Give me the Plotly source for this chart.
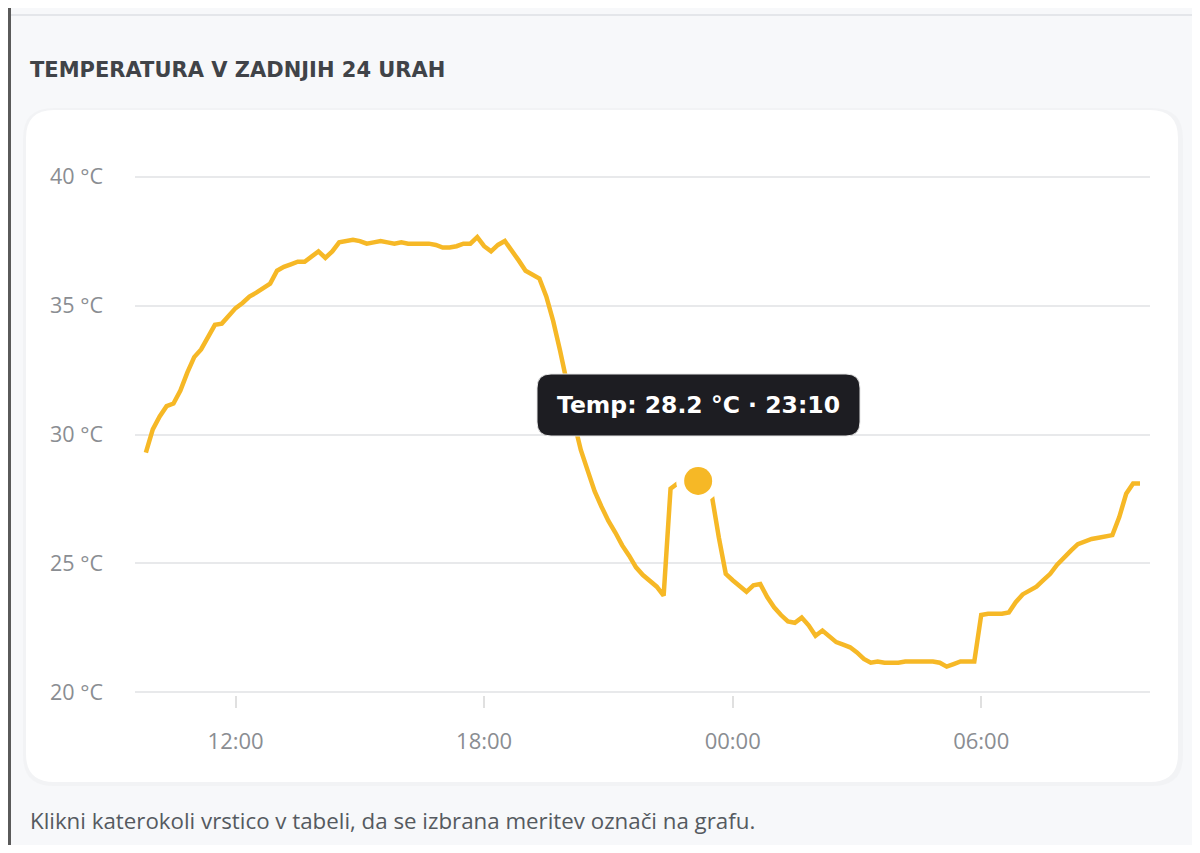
import pandas as pd
import plotly.graph_objects as go

# meritve na 10 minut, od 09:50 do 09:50 naslednji dan
zacetek = "2025-07-14 09:50"
temperature = [
    29.3, 30.2, 30.7, 31.1, 31.2, 31.7, 32.4, 33.0, 33.3, 33.8,
    34.25, 34.3, 34.6, 34.9, 35.1, 35.35, 35.5, 35.65, 35.85, 36.35,
    36.5, 36.6, 36.7, 36.7, 36.9, 37.1, 36.85, 37.1, 37.45, 37.5,
    37.55, 37.5, 37.4, 37.45, 37.5, 37.45, 37.4, 37.45, 37.4, 37.4,
    37.4, 37.4, 37.35, 37.25, 37.25, 37.3, 37.4, 37.4, 37.65, 37.3,
    37.1, 37.35, 37.5, 37.15, 36.75, 36.35, 36.2, 36.05, 35.35, 34.4,
    33.25, 32.0, 30.5, 29.4, 28.6, 27.8, 27.2, 26.65, 26.2, 25.7,
    25.3, 24.85, 24.55, 24.3, 24.1, 23.75, 27.9, 28.1, 28.1, 28.2,
    28.2, 28.1, 27.6, 26.0, 24.6, 24.35, 24.15, 23.9, 24.15, 24.2,
    23.7, 23.3, 23.0, 22.75, 22.7, 22.9, 22.6, 22.2, 22.4, 22.2,
    21.95, 21.85, 21.75, 21.55, 21.3, 21.15, 21.2, 21.15, 21.15, 21.15,
    21.2, 21.2, 21.2, 21.2, 21.2, 21.15, 21.0, 21.1, 21.2, 21.2,
    21.2, 23.0, 23.05, 23.05, 23.05, 23.1, 23.5, 23.8, 23.95, 24.1,
    24.35, 24.6, 24.95, 25.25, 25.5, 25.75, 25.85, 25.95, 26.0, 26.05,
    26.1, 26.8, 27.7, 28.1, 28.1,
]
casi = pd.date_range(zacetek, periods=len(temperature), freq="10min")

izbran_cas = pd.Timestamp("2025-07-14 23:10")
izbrana_temp = 28.2

y_oznake = [20, 25, 30, 35, 40]
naslov = "TEMPERATURA V ZADNJIH 24 URAH"
opomba = "Klikni katerokoli vrstico v tabeli, da se izbrana meritev označi na grafu."

RUMENA = "#f6b826"
ODMIK = 8  # rob strani (body margin)
W, H = 1200 - 2 * ODMIK, 853 - 2 * ODMIK
# plot area v pikslih zaslona
PL, PR, PT, PB = 135, 1150, 174, 695


def px(x):
    return (x - PL) / (PR - PL)


def py(y):
    return (PB - y) / (PB - PT)


def zaobljen(x0, y0, x1, y1, r):
    # zaobljen pravokotnik v paper koordinatah
    a, b, c, d = px(x0), px(x1), py(y0), py(y1)
    rx, ry = r / (PR - PL), r / (PB - PT)
    return (f"M {a+rx},{c} L {b-rx},{c} Q {b},{c} {b},{c-ry} "
            f"L {b},{d+ry} Q {b},{d} {b-rx},{d} L {a+rx},{d} "
            f"Q {a},{d} {a},{d+ry} L {a},{c-ry} Q {a},{c} {a+rx},{c} Z")


fig = go.Figure()

fig.add_trace(go.Scatter(
    x=casi, y=temperature, mode="lines",
    line=dict(color=RUMENA, width=4.5, shape="linear"),
    hoverinfo="skip",
))
# bela obroba okoli izbrane tocke
fig.add_trace(go.Scatter(
    x=[izbran_cas], y=[izbrana_temp], mode="markers",
    marker=dict(color="white", size=44), hoverinfo="skip",
))
fig.add_trace(go.Scatter(
    x=[izbran_cas], y=[izbrana_temp], mode="markers",
    marker=dict(color=RUMENA, size=28), hoverinfo="skip",
))

shapes = [
    # kartica
    dict(type="path", xref="paper", yref="paper", layer="below",
         path=zaobljen(23, 108, 1183, 786, 30),
         fillcolor="rgba(0,0,0,0.02)", line=dict(width=0)),
    dict(type="path", xref="paper", yref="paper", layer="below",
         path=zaobljen(26, 110, 1178, 782, 28),
         fillcolor="white", line=dict(width=0)),
    # zgornja crta
    dict(type="line", xref="paper", yref="paper",
         x0=px(0), x1=px(1200), y0=py(15), y1=py(15),
         line=dict(color="#e4e6ea", width=2)),
    # levi rob
    dict(type="rect", xref="paper", yref="paper",
         x0=px(ODMIK), x1=px(ODMIK + 3), y0=py(0), y1=py(853),
         fillcolor="#5a5a5a", line=dict(width=0)),
    # tooltip
    dict(type="path", xref="paper", yref="paper", layer="above",
         path=zaobljen(537, 374, 860, 436, 14),
         fillcolor="#1d1d22", line=dict(color="#e6e6e6", width=1)),
]

annotations = [
    dict(text=naslov, xref="paper", yref="paper", x=px(28), y=py(70),
         xanchor="left", yanchor="middle", showarrow=False,
         font=dict(family="DejaVu Sans", size=21, color="#404348", weight=700)),
    dict(text=opomba, xref="paper", yref="paper", x=px(28), y=py(820),
         xanchor="left", yanchor="middle", showarrow=False,
         font=dict(family="Open Sans", size=22.3, color="#555a60")),
    dict(text=f"Temp: {izbrana_temp} °C · {izbran_cas:%H:%M}",
         x=izbran_cas, y=izbrana_temp, xref="x", yref="y",
         yshift=76, showarrow=False,
         font=dict(family="DejaVu Sans", size=23.5, color="white", weight=700)),
]

fig.update_layout(
    width=W, height=H,
    margin=dict(l=PL - ODMIK, r=W - (PR - ODMIK), t=PT - ODMIK,
                b=H - (PB - ODMIK), pad=0),
    paper_bgcolor="#f7f8fa",
    plot_bgcolor="rgba(0,0,0,0)",
    showlegend=False,
    hovermode=False,
    shapes=shapes,
    annotations=annotations,
    font=dict(family="Open Sans", color="#8a8d92"),
)

fig.update_xaxes(
    range=["2025-07-14 09:34:15", "2025-07-15 10:04:30"],
    tick0="2025-07-14 00:00", dtick=6 * 3600 * 1000,
    tickformat="%H:%M", showgrid=False, zeroline=False,
    ticks="outside", ticklen=12, tickcolor="#e0e0e0", tickwidth=1.5,
    ticklabelstandoff=15, tickfont=dict(size=22, color="#8a8d92"),
    showline=False,
)
fig.update_yaxes(
    range=[19.9, 40.1], tickvals=y_oznake,
    ticktext=[f"{v} °C" for v in y_oznake],
    showgrid=True, gridcolor="#e8e9eb", gridwidth=1.5, zeroline=False,
    ticks="", ticklabelstandoff=31, tickfont=dict(size=21.5, color="#8a8d92"),
)

fig.write_html("out.html")
